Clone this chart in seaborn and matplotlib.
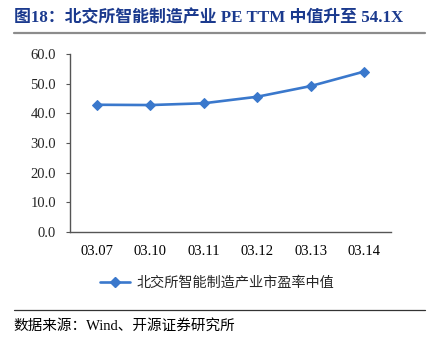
import matplotlib
matplotlib.use("Agg")
import matplotlib.pyplot as plt
import seaborn as sns
import pandas as pd
import numpy as np
from matplotlib.lines import Line2D

# Data
dates = ["03.07", "03.10", "03.11", "03.12", "03.13", "03.14"]
pe_median = [42.9, 42.8, 43.4, 45.6, 49.2, 54.1]
y_ticks = [0, 10, 20, 30, 40, 50, 60]

series_name = "北交所智能制造产业市盈率中值"
title_text = "图18：北交所智能制造产业 PE TTM 中值升至 54.1X"
source_text = "数据来源：Wind、开源证券研究所"

sns.set_theme(style="white")
plt.rcParams["font.family"] = ["Liberation Serif", "Noto Sans CJK SC", "DejaVu Sans"]

line_color = "#3A78CC"
df = pd.DataFrame({"date": dates, "pe": pe_median, "pos": np.arange(len(dates))})

fig = plt.figure(figsize=(4.33, 3.40), dpi=100)
ax = fig.add_axes([0.1617, 0.3176, 0.7413, 0.5235])

sns.lineplot(data=df, x="pos", y="pe", ax=ax, color=line_color, linewidth=1.9,
             marker="D", markersize=5, markeredgecolor=line_color, legend=False)

ax.set_xlim(-0.5, len(dates) - 0.5)
ax.set_ylim(0, 60)
ax.set_yticks(y_ticks)
ax.set_yticklabels([f"{v:.1f}" for v in y_ticks], fontsize=10.5)
ax.set_xticks(df["pos"])
ax.set_xticklabels(dates, fontsize=10.5)
ax.set_xticks(np.arange(-0.5, len(dates)), minor=True)
ax.tick_params(axis="x", which="major", length=0, pad=9, colors="#000000")
ax.tick_params(axis="x", which="minor", direction="in", length=4, width=0.8, color="#555555")
ax.tick_params(axis="y", which="major", direction="out", length=3, width=0.8, pad=7, color="#555555", left=True)
ax.set_xlabel("")
ax.set_ylabel("")

for side in ["top", "right"]:
    ax.spines[side].set_visible(False)
for side in ["left", "bottom"]:
    ax.spines[side].set_color("#555555")
    ax.spines[side].set_linewidth(1.0)

# Legend below the axes
handle = Line2D([], [], color=line_color, linewidth=1.9, marker="D", markersize=5)
fig.legend([handle], [series_name], loc="center", bbox_to_anchor=(0.502, 0.167),
           frameon=False, prop={"family": ["Noto Sans CJK SC"], "size": 10.2},
           handlelength=2.1, handletextpad=0.5)

# Title and its rule
fig.text(0.032, 0.947, title_text, fontsize=12.2, fontweight="bold", color="#1B3A8E",
         ha="left", va="center")
fig.add_artist(Line2D([0.032, 0.982], [0.904, 0.904], color="#8C8C8C", linewidth=1.6,
                      transform=fig.transFigure))

# Source footer and its rule
fig.add_artist(Line2D([0.032, 0.982], [0.088, 0.088], color="#333333", linewidth=0.9,
                      transform=fig.transFigure))
fig.text(0.032, 0.043, source_text, fontsize=10.5, color="#000000", ha="left", va="center")

fig.savefig("out.png", dpi=100)
